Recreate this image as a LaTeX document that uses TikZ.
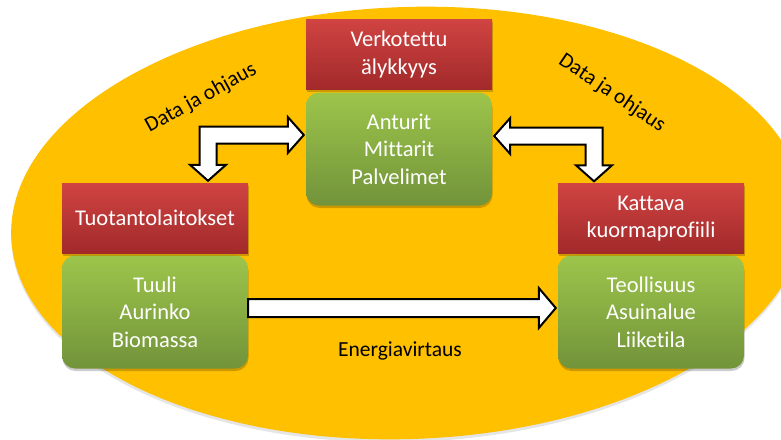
\documentclass[tikz,border=0pt]{standalone}
\usepackage{fontspec}
\setmainfont{Carlito}[Ligatures=NoCommon]
\usetikzlibrary{calc,shadows}
\definecolor{disc}{HTML}{FFC000}
\definecolor{redtop}{HTML}{D04442}
\definecolor{redbot}{HTML}{A2292A}
\definecolor{greentop}{HTML}{9DC54B}
\definecolor{greenbot}{HTML}{72933A}
\begin{document}
\begin{tikzpicture}[x=1pt,y=-1pt,
  boxtext/.style={text=white, align=center, inner sep=0pt,
    font=\fontsize{22.5}{27.5}\selectfont},
  softshadow/.style={drop shadow={shadow xshift=0.5pt, shadow yshift=-2.5pt,
    opacity=0.2, fill=black}},
  redbox/.style={boxtext, minimum width=186pt, minimum height=70pt,
    top color=redtop, bottom color=redbot, softshadow},
  greenbox/.style={boxtext, rounded corners=13pt, minimum width=186pt,
    minimum height=113pt, top color=greentop, bottom color=greenbot, softshadow},
  blockarrow/.style={draw=black, line width=2pt, fill=white, line join=miter},
  flowlabel/.style={text=black, inner sep=0pt, font=\fontsize{21.5}{26}\selectfont}]

% canvas
\useasboundingbox (0,0) rectangle (781,439);
\fill[white] (0,0) rectangle (781,439);

\begin{scope}
  \clip (0,0) rectangle (781,439);
  % soft shadow under the disc
  \fill[black, opacity=0.10, rotate around={2:(408,226)}]
    (408,226) ellipse [x radius=397, y radius=216];
  % the orange disc
  \fill[disc, rotate around={2:(408,223)}]
    (408,223) ellipse [x radius=397, y radius=216];
\end{scope}

% boxes
\node[greenbox] (ant) at (399,149) {Anturit\\Mittarit\\Palvelimet};
\node[redbox]   (ver) at (399,54.5) {Verkotettu\\älykkyys};
\node[greenbox] (tuu) at (155,312) {Tuuli\\Aurinko\\Biomassa};
\node[redbox]   (tuo) at (155,218) {Tuotantolaitokset};
\node[greenbox] (teo) at (651,312) {Teollisuus\\Asuinalue\\Liiketila};
\node[redbox]   (kat) at (651,218.5) {Kattava\\kuormaprofiili};

% tips of the block arrows
\coordinate (lt1) at ($(ant.west)+(-2,-14)$);
\coordinate (lt2) at ($(tuo.north)+(53,-2)$);
\coordinate (rt1) at ($(ant.east)+(2,-13)$);
\coordinate (rt2) at ($(kat.north)+(-57,-2)$);
\coordinate (e1)  at ($(tuu.east)+(0,-4)$);
\coordinate (e2)  at ($(teo.west)+(-2,-4)$);

% left bent double arrow: sensors <-> production
\path[blockarrow]
  ($(lt2|-lt1)+(-8.5,-8.5)$) -- ($(lt1)+(-16,-8.5)$) -- ($(lt1)+(-16,-18)$)
  -- (lt1) -- ($(lt1)+(-16,18)$) -- ($(lt1)+(-16,8.5)$)
  -- ($(lt2|-lt1)+(8.5,8.5)$) -- ($(lt2)+(8.5,-16)$) -- ($(lt2)+(18,-16)$)
  -- (lt2) -- ($(lt2)+(-18,-16)$) -- ($(lt2)+(-8.5,-16)$) -- cycle;

% right bent double arrow: sensors <-> load profile
\path[blockarrow]
  ($(rt2|-rt1)+(8.5,-8.5)$) -- ($(rt1)+(16,-8.5)$) -- ($(rt1)+(16,-18)$)
  -- (rt1) -- ($(rt1)+(16,18)$) -- ($(rt1)+(16,8.5)$)
  -- ($(rt2|-rt1)+(-8.5,8.5)$) -- ($(rt2)+(-8.5,-16)$) -- ($(rt2)+(-18,-16)$)
  -- (rt2) -- ($(rt2)+(18,-16)$) -- ($(rt2)+(8.5,-16)$) -- cycle;

% energy flow arrow
\path[blockarrow]
  ($(e1)+(0,-9)$) -- ($(e2)+(-17,-9)$) -- ($(e2)+(-17,-20)$) -- (e2)
  -- ($(e2)+(-17,20)$) -- ($(e2)+(-17,9)$) -- ($(e1)+(0,9)$) -- cycle;

% labels
\node[flowlabel, rotate=29]  (dl) at (201,98) {Data ja ohjaus};
\node[flowlabel, rotate=-34] (dr) at (612,93) {Data ja ohjaus};
\node[flowlabel]             (en) at (400,351) {Energiavirtaus};
\end{tikzpicture}
\end{document}
